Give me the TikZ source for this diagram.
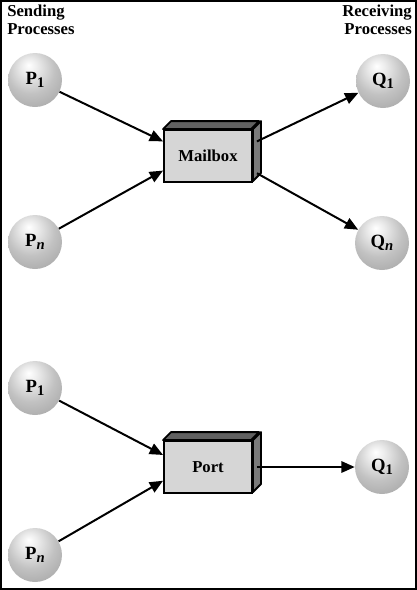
\documentclass[tikz,border=0pt]{standalone}
\usepackage{fontspec}
\setmainfont{Liberation Serif}
\usetikzlibrary{arrows.meta}

\pgfdeclareradialshading{procball}{\pgfpoint{-6bp}{14bp}}{%
  color(0bp)=(white); color(8bp)=(black!8); color(22bp)=(black!24);
  color(42bp)=(black!38); color(66bp)=(black!46)}
\newcommand{\lowsub}[1]{\raisebox{-0.35ex}{\fontsize{11}{12}\selectfont #1}}

\tikzset{
  proc/.style={circle, shading=procball, minimum size=40.5pt, inner sep=0pt,
    font=\fontsize{14}{15}\selectfont\bfseries},
  msgbox/.style={draw, line width=1.4pt, fill=black!16, minimum width=66pt,
    minimum height=39pt, inner sep=0pt, font=\fontsize{12.5}{14}\selectfont\bfseries},
  topface/.style={draw, line width=1.4pt, line join=round, fill=black!62},
  sideface/.style={draw, line width=1.4pt, line join=round, fill=black!52},
  arr/.style={line width=1.5pt, -{Triangle[length=10pt,width=8.5pt]}},
  heading/.style={inner sep=0pt, font=\fontsize{12.5}{13}\selectfont\bfseries}
}

\begin{document}
\begin{tikzpicture}[x=0.75pt,y=0.75pt,yscale=-1,xscale=1]
    \useasboundingbox (0,0) rectangle (417,590);
    % frame
    \draw [line width=1.5pt] (1,1) rectangle (416,589);

    % Text Node
    \node [heading, anchor=north west, align=left] (send) at (7,5) {Sending\\Processes};
    % Text Node
    \node [heading, anchor=north east, align=right] (recv) at (412,5) {Receiving\\Processes};

    % Mailbox
    \node [msgbox] (mb) at (208,156) {Mailbox};
    \draw [topface] (mb.north west) -- ++(8,-8) -- ++(88,0) -- ++(-8,8) -- cycle;
    \draw [sideface] (mb.north east) -- ++(8,-8) -- ++(0,52) -- ++(-8,8) -- cycle;

    % Port
    \node [msgbox] (port) at (208,467) {Port};
    \draw [topface] (port.north west) -- ++(8,-8) -- ++(88,0) -- ++(-8,8) -- cycle;
    \draw [sideface] (port.north east) -- ++(8,-8) -- ++(0,52) -- ++(-8,8) -- cycle;

    % processes
    \node [proc] (p1) at (35,80) {P\lowsub{1}};
    \node [proc] (pn) at (35,242) {P\lowsub{\textit{n}}};
    \node [proc] (q1) at (383,81) {Q\lowsub{1}};
    \node [proc] (qn) at (382,243) {Q\lowsub{\textit{n}}};
    \node [proc] (p1b) at (35,388) {P\lowsub{1}};
    \node [proc] (pnb) at (35,555) {P\lowsub{\textit{n}}};
    \node [proc] (q1b) at (382,467) {Q\lowsub{1}};

    % arrows
    \draw [arr] (p1) -- (mb.162);
    \draw [arr] (pn) -- (mb.-162);
    \draw [arr] ([xshift=3pt]mb.18) -- (q1);
    \draw [arr] ([xshift=3pt]mb.-21) -- (qn);
    \draw [arr] (p1b) -- (port.165);
    \draw [arr] (pnb) -- (port.-163);
    \draw [arr] ([xshift=3pt]port.east) -- (q1b);

\end{tikzpicture}
\end{document}
